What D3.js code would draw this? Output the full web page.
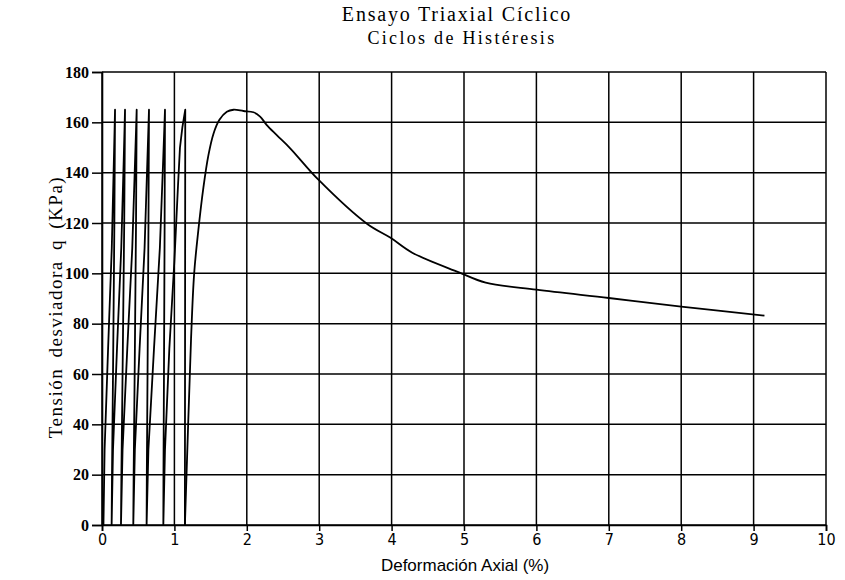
<!DOCTYPE html>
<html>
<head>
<meta charset="utf-8">
<script src="https://cdn.jsdelivr.net/npm/d3@7"></script>
<style>
  html, body { margin: 0; padding: 0; background: #fff; }
  svg { display: block; }
</style>
</head>
<body>
<svg id="chart" width="845" height="580"></svg>
<script>
// ---- data ----
const titleText = "Ensayo Triaxial Cíclico";
const subtitleText = "Ciclos de Histéresis";
const xLabelText = "Deformación Axial  (%)";
const yLabelText = "Tensión desviadora  q  (KPa)";

const xTickValues = [0, 1, 2, 3, 4, 5, 6, 7, 8, 9, 10];
const yTickValues = [0, 20, 40, 60, 80, 100, 120, 140, 160, 180];

// hysteresis cycles (loading / unloading sequence)
const hysteresisStrain = [
  0.02, 0.036, 0.084, 0.135, 0.164, 0.18, 0.171, 0.152, 0.138, 0.133,
  0.152, 0.207, 0.266, 0.300, 0.318, 0.307, 0.284, 0.268, 0.262,
  0.284, 0.349, 0.418, 0.457, 0.479, 0.470, 0.451, 0.437, 0.432,
  0.454, 0.519, 0.588, 0.627, 0.649, 0.642, 0.629, 0.619, 0.616,
  0.641, 0.718, 0.799, 0.845, 0.870, 0.865, 0.856, 0.849, 0.847,
  0.870, 0.930, 1.000, 1.050, 1.077, 1.110, 1.150, 1.148, 1.145
];
const hysteresisStress = [
  0, 30, 70, 110, 145, 165, 120, 60, 20, 0,
  30, 70, 110, 145, 165, 120, 60, 20, 0,
  30, 70, 110, 145, 165, 120, 60, 20, 0,
  30, 70, 110, 145, 165, 120, 60, 20, 0,
  30, 70, 110, 145, 165, 120, 60, 20, 0,
  30, 70, 105, 135, 150, 158, 165, 100, 0
];

// final monotonic loading to failure
const monotonicStrain = [
  1.145, 1.19, 1.23, 1.273, 1.33, 1.40, 1.47, 1.54, 1.622, 1.724, 1.816,
  1.954, 2.092, 2.184, 2.276, 2.414, 2.599, 2.996, 3.664, 3.986, 4.285,
  4.93, 5.30, 6.0, 7.0, 8.0, 9.15
];
const monotonicStress = [
  0, 40, 74, 100, 117, 134, 147, 155.5, 161, 164.2, 165,
  164.5, 164.0, 162.3, 158.9, 154.9, 149.7, 137.0, 119.6, 114.1, 108.2,
  100.4, 96.3, 93.5, 90.2, 86.8, 83.2
];

// ---- drawing ----
const svg = d3.select("#chart");
const margin = { left: 102, right: 845 - 826, top: 72, bottom: 580 - 525 };
const W = 845, H = 580;

const x = d3.scaleLinear().domain([0, 10]).range([margin.left, W - margin.right]);
const y = d3.scaleLinear().domain([0, 180]).range([H - margin.bottom, margin.top]);

const gridColor = "#000";

// grid lines
svg.append("g").selectAll("line").data(xTickValues).join("line")
  .attr("x1", d => x(d)).attr("x2", d => x(d))
  .attr("y1", y(0)).attr("y2", y(180))
  .attr("stroke", gridColor).attr("stroke-width", 1.5);

svg.append("g").selectAll("line").data(yTickValues).join("line")
  .attr("x1", x(0)).attr("x2", x(10))
  .attr("y1", d => y(d)).attr("y2", d => y(d))
  .attr("stroke", gridColor).attr("stroke-width", 1.5);

// axes
const yAxis = d3.axisLeft(y).tickValues(yTickValues).tickSize(10).tickPadding(3).tickFormat(d3.format("d"));
const gy = svg.append("g").attr("transform", `translate(${x(0)},0)`).call(yAxis);
gy.select(".domain").attr("stroke", "#000").attr("stroke-width", 1.6);
gy.selectAll(".tick line").attr("stroke", "#000").attr("stroke-width", 1.5);
gy.selectAll(".tick text")
  .attr("font-family", "'Liberation Serif', 'DejaVu Serif', serif")
  .attr("font-size", 16).attr("font-weight", "bold").attr("fill", "#000");

const xAxis = d3.axisBottom(x).tickValues(xTickValues).tickSize(6).tickPadding(3).tickFormat(d3.format("d"));
const gx = svg.append("g").attr("transform", `translate(0,${y(0)})`).call(xAxis);
gx.select(".domain").attr("stroke", "#000").attr("stroke-width", 1.6);
gx.selectAll(".tick line").attr("stroke", "#000").attr("stroke-width", 1.5);
gx.selectAll(".tick text")
  .attr("font-family", "'Liberation Sans Narrow', 'DejaVu Sans Condensed', 'Liberation Sans', sans-serif")
  .attr("font-size", 16).attr("fill", "#000");

// data lines
const hystPts = hysteresisStrain.map((s, i) => [s, hysteresisStress[i]]);
const monoPts = monotonicStrain.map((s, i) => [s, monotonicStress[i]]);

svg.append("path")
  .datum(hystPts)
  .attr("fill", "none").attr("stroke", "#000").attr("stroke-width", 1.8)
  .attr("stroke-linejoin", "round")
  .attr("d", d3.line().x(d => x(d[0])).y(d => y(d[1])).curve(d3.curveLinear));

svg.append("path")
  .datum(monoPts)
  .attr("fill", "none").attr("stroke", "#000").attr("stroke-width", 1.8)
  .attr("stroke-linejoin", "round")
  .attr("d", d3.line().x(d => x(d[0])).y(d => y(d[1])).curve(d3.curveCatmullRom.alpha(0.5)));

// titles
svg.append("text").attr("x", 457).attr("y", 21).attr("text-anchor", "middle")
  .attr("font-family", "'Liberation Serif', 'DejaVu Serif', serif").attr("font-size", 20)
  .attr("letter-spacing", 1.8)
  .text(titleText);
svg.append("text").attr("x", 462).attr("y", 44).attr("text-anchor", "middle")
  .attr("font-family", "'Liberation Serif', 'DejaVu Serif', serif").attr("font-size", 18)
  .attr("letter-spacing", 2.3)
  .text(subtitleText);

svg.append("text").attr("x", 465).attr("y", 571).attr("text-anchor", "middle")
  .attr("font-family", "'Liberation Sans', 'DejaVu Sans', sans-serif").attr("font-size", 17)
  .text(xLabelText);

svg.append("text")
  .attr("transform", `translate(62,${307}) rotate(-90)`)
  .attr("text-anchor", "middle")
  .attr("font-family", "'Liberation Serif', 'DejaVu Serif', serif").attr("font-size", 19)
  .attr("letter-spacing", 1.5).attr("word-spacing", 4)
  .text(yLabelText);
</script>
</body>
</html>
